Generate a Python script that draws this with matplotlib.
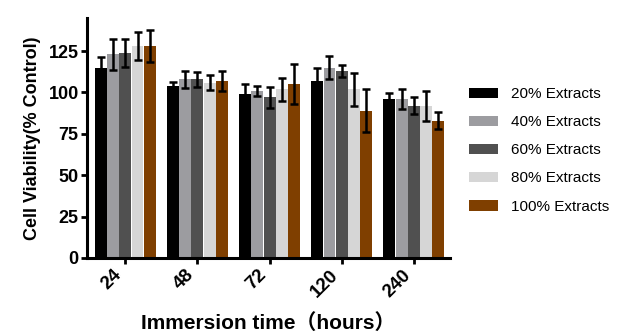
import numpy as np
import matplotlib
matplotlib.use("Agg")
import matplotlib.pyplot as plt

# data
times = ["24", "48", "72", "120", "240"]
series = ["20% Extracts", "40% Extracts", "60% Extracts", "80% Extracts", "100% Extracts"]
colors = ["#000000", "#9c9ca0", "#505050", "#d6d6d6", "#7f3f00"]

v20 = [115, 104, 99, 107, 96]
v40 = [123, 108, 101, 115, 96]
v60 = [124, 108, 97, 113, 92]
v80 = [128, 106, 102, 102, 92]
v100 = [128, 107, 105, 89, 83]

e20 = [6.5, 2.5, 6, 7.5, 3.5]
e40 = [9.5, 5, 3, 7, 6]
e60 = [8.5, 4.5, 6.5, 3.5, 5]
e80 = [8.5, 4.5, 7, 10, 9]
e100 = [9.5, 6, 12, 13, 5]

values = [v20, v40, v60, v80, v100]
errors = [e20, e40, e60, e80, e100]

plt.rcParams['font.family'] = ['Liberation Sans', 'Noto Sans CJK SC', 'DejaVu Sans']

fig = plt.figure(figsize=(6.2, 3.32), dpi=100)
ax = fig.add_axes([0.1403, 0.2229, 0.5855, 0.7229])

x = np.arange(len(times))
w = 0.17
for i, (name, vals, errs, c) in enumerate(zip(series, values, errors, colors)):
    ax.bar(x + (i - 2) * w, vals, width=w * 0.97, color=c, label=name,
           yerr=errs, error_kw=dict(ecolor="black", elinewidth=1.8, capsize=3, capthick=1.8))

ax.set_xlim(-0.53, 4.5)
ax.set_ylim(0, 145)
ax.set_yticks([0, 25, 50, 75, 100, 125])
ax.set_xticks(x)
ax.set_xticklabels(times, rotation=45, ha="right", fontweight="bold", fontsize=13.5)
for lab in ax.get_yticklabels():
    lab.set_fontweight("bold")
    lab.set_fontsize(13)

for s in ["top", "right"]:
    ax.spines[s].set_visible(False)
for s in ["left", "bottom"]:
    ax.spines[s].set_linewidth(2.2)
ax.tick_params(axis="both", width=2, length=4, pad=2)

ax.set_ylabel("Cell Viability(% Control)", fontweight="bold", fontsize=13, labelpad=5)
ax.set_xlabel("Immersion time（hours）", fontweight="bold", fontsize=15, labelpad=9)

ax.legend(loc="upper left", bbox_to_anchor=(0.757, 0.737), bbox_transform=fig.transFigure,
          frameon=False, fontsize=11, handlelength=1.9, handleheight=0.7,
          labelspacing=0.92, handletextpad=0.85, borderpad=0, borderaxespad=0)

fig.savefig("out.png", dpi=100)
